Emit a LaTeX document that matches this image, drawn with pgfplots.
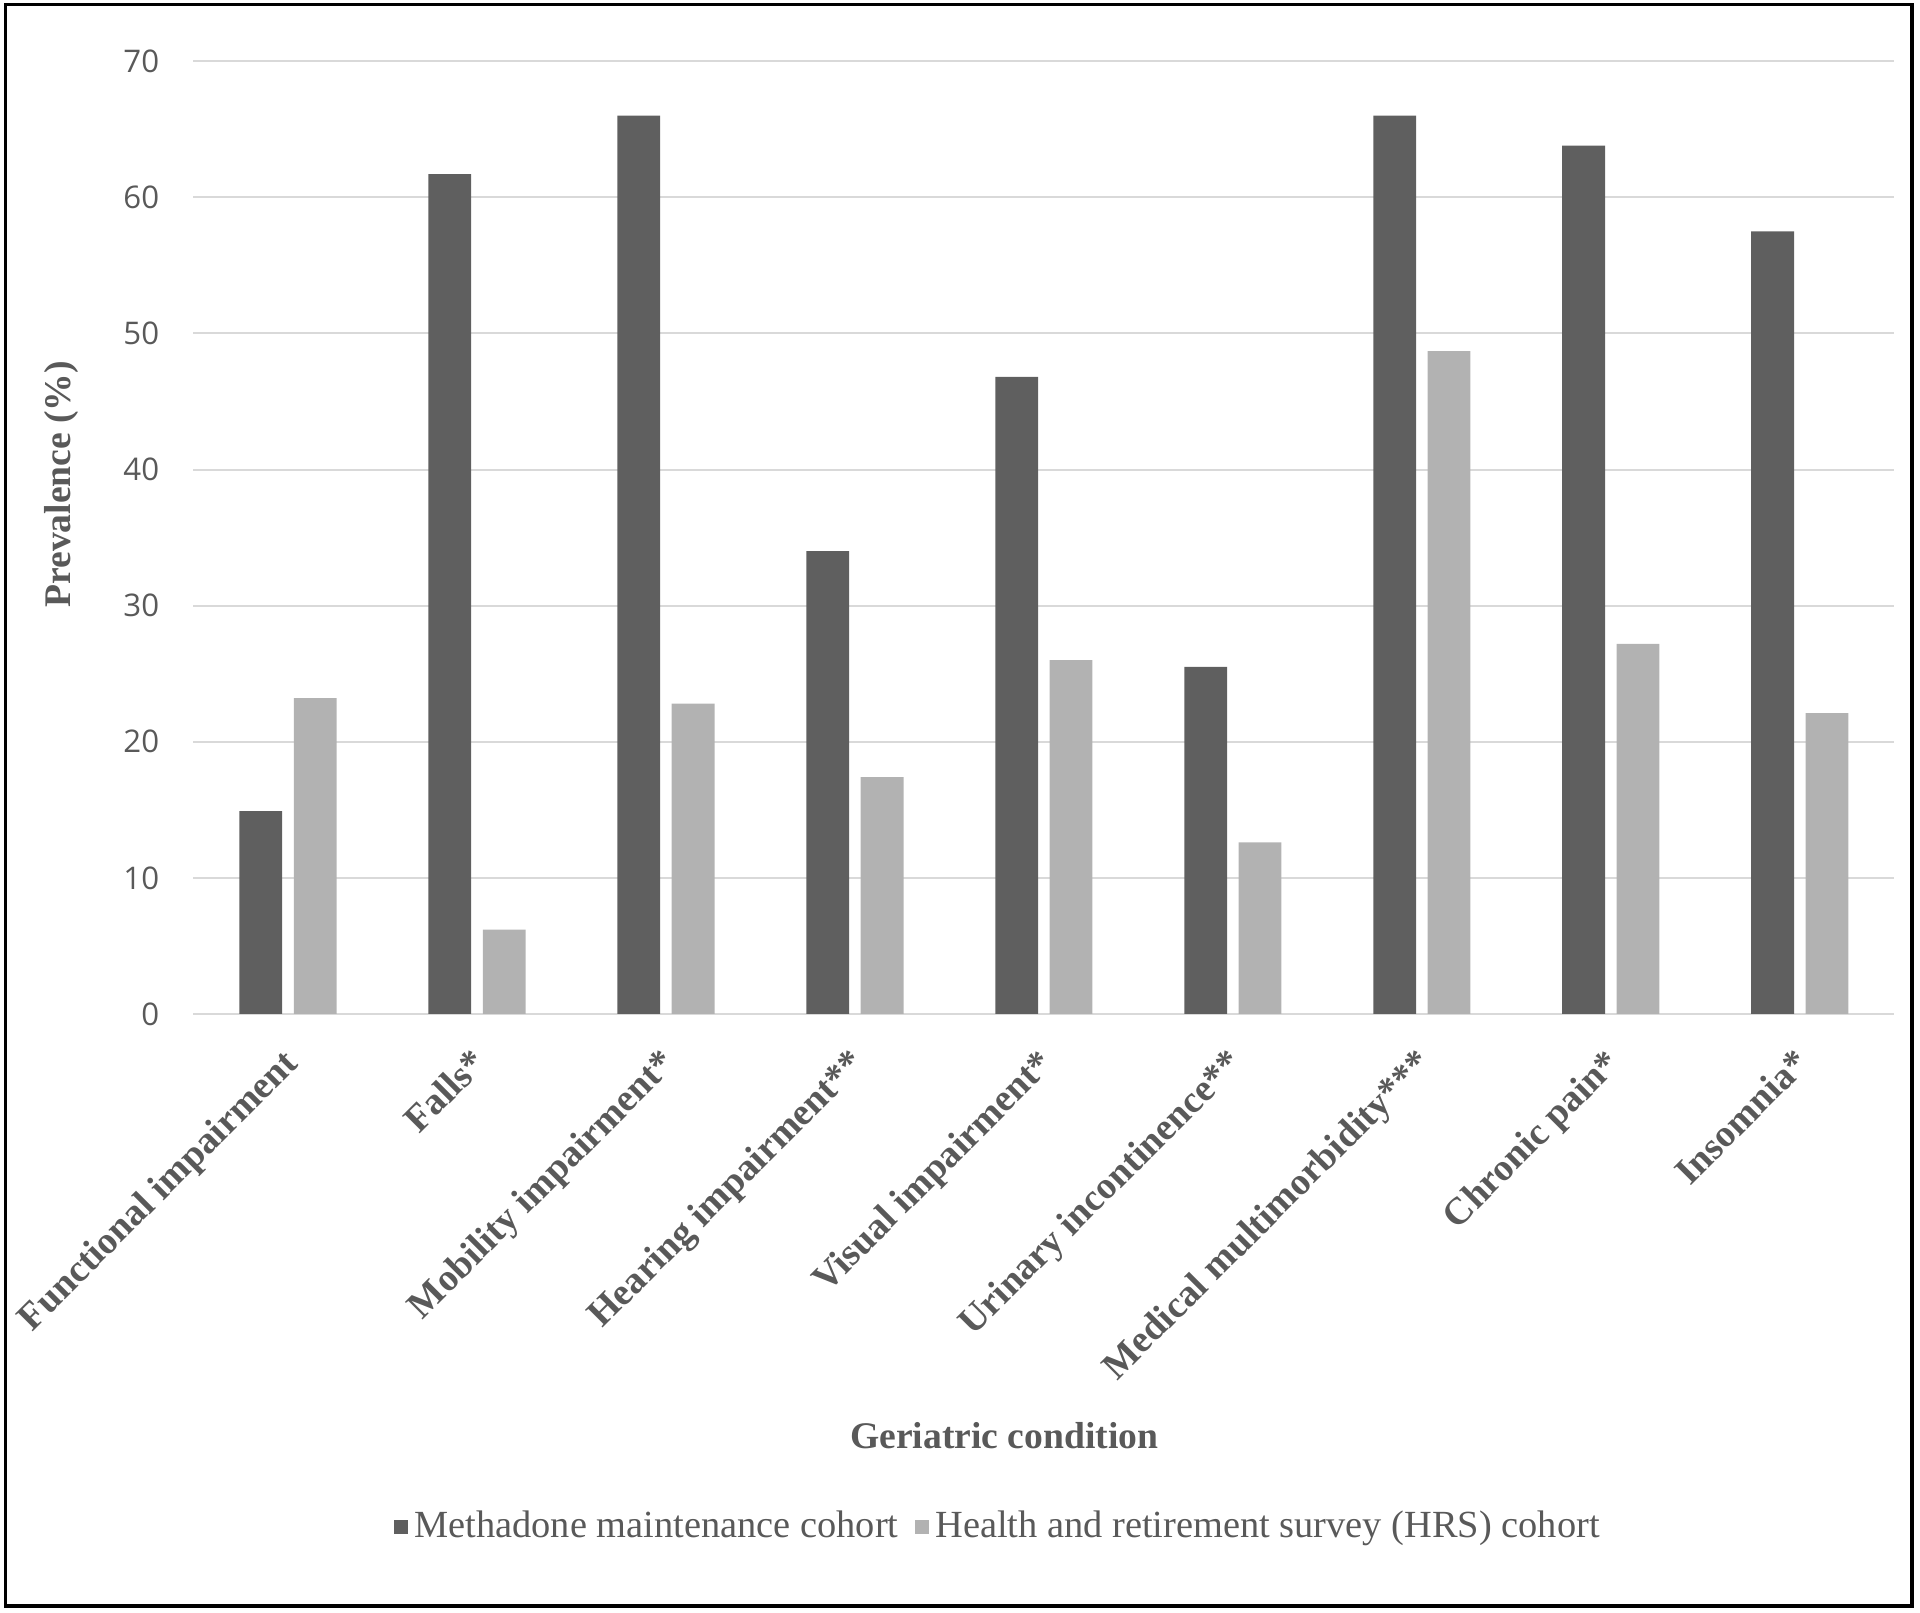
\documentclass[border=0pt]{standalone}
\usepackage{fontspec}
\setmainfont{Liberation Serif}
\newfontfamily\tickfont{Open Sans}
\usepackage{pgfplots}
\pgfplotsset{compat=1.18}
\definecolor{darkbar}{HTML}{5F5F5F}
\definecolor{lightbar}{HTML}{B2B2B2}
\definecolor{gridc}{HTML}{D9D9D9}
\definecolor{txt}{HTML}{595959}
\begin{document}
\begin{tikzpicture}
\useasboundingbox (-48.375pt,-149.75pt) rectangle (431.625pt,253.5pt);
\draw[line width=0.8pt,black] (-46.9pt,-148pt) rectangle (429.6pt,252.4pt);
\begin{axis}[
  at={(0pt,0pt)}, anchor=south west,
  scale only axis, width=425.2pt, height=238.2pt,
  ybar=2.9pt, bar width=10.7pt,
  xmin=-0.5, xmax=8.5, ymin=0, ymax=70,
  ytick={0,10,...,70},
  xtick={0,1,2,3,4,5,6,7,8},
  xticklabels={Functional impairment, Falls*, Mobility impairment*, Hearing impairment**, Visual impairment*, Urinary incontinence**, Medical multimorbidity***, Chronic pain*, Insomnia*},
  ymajorgrids,
  grid style={line width=0.5pt, gridc},
  axis line style={draw=none},
  tick style={draw=none},
  /pgf/number format/assume math mode=true,
  yticklabel style={font=\tickfont\fontsize{7.8}{9}\selectfont, color=txt, anchor=east, inner sep=0pt, xshift=-8.4pt},
  xticklabel style={rotate=45, anchor=north east, inner sep=0pt, yshift=-1.3pt, xshift=-3.9pt, font=\bfseries\fontsize{9.5}{11}\selectfont, color=txt},
  ylabel={Prevalence (\%)},
  ylabel style={at={(axis description cs:-0.0778,0.556)}, anchor=center, rotate=0, font=\bfseries\fontsize{9.4}{11}\selectfont, color=txt},
  xlabel={Geriatric condition},
  xlabel style={at={(axis description cs:0.4767,-0.4429)}, anchor=center, font=\bfseries\fontsize{9.4}{11}\selectfont, color=txt},
  legend columns=2,
  legend style={at={(axis description cs:0.474,-0.5384)}, anchor=center, draw=none, fill=none,
    font=\fontsize{9.6}{11}\selectfont, text=txt,
    /tikz/every even column/.append style={column sep=2.5pt},
    nodes={inner sep=1.5pt}},
  legend image code/.code={\fill[#1] (0pt,-1.85pt) rectangle (3.7pt,1.85pt);},
]
\addplot[fill=darkbar, draw=none] coordinates {(0,14.9) (1,61.7) (2,66.0) (3,34.0) (4,46.8) (5,25.5) (6,66.0) (7,63.8) (8,57.5)};
\addplot[fill=lightbar, draw=none] coordinates {(0,23.2) (1,6.2) (2,22.8) (3,17.4) (4,26.0) (5,12.6) (6,48.7) (7,27.2) (8,22.1)};
\legend{Methadone maintenance cohort, Health and retirement survey (HRS) cohort}
\end{axis}
\end{tikzpicture}
\end{document}
